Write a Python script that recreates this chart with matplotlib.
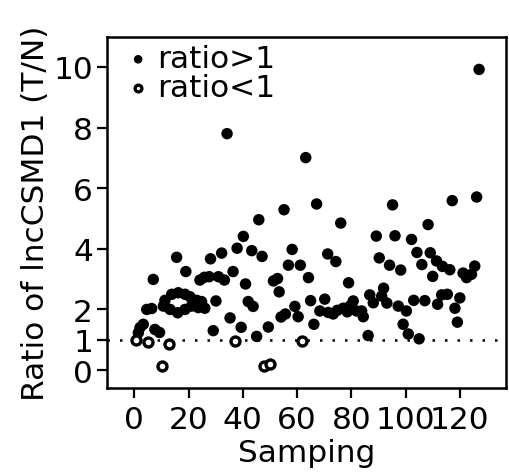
import matplotlib
matplotlib.use('Agg')
import matplotlib.pyplot as plt


# samples with tumour/normal ratio above 1
HIGH_X = [
    1.5, 2.1, 3.3, 4.6, 6.4, 7.0, 7.6, 9.3, 10.7, 11.3, 13.2, 13.8, 15.6,
    16.0, 16.2, 18.7, 18.7, 19.0, 20.5, 21.1, 23.0, 23.6, 24.2, 24.8, 26.0,
    25.8, 27.6, 28.1, 29.1, 30.1, 31.0, 32.2, 33.2, 34.2, 35.3, 36.4, 37.9,
    39.4, 40.2, 41.0, 42.0, 43.3, 43.8, 45.1, 45.9, 47.1, 49.4, 51.3, 52.8,
    53.4, 54.1, 55.2, 55.7, 56.8, 58.2, 59.2, 60.4, 61.2, 63.2, 64.2, 65.0,
    66.2, 67.2, 68.4, 70.2, 71.3, 71.5, 73.3, 74.3, 74.8, 76.1, 77.0, 78.5,
    79.0, 79.5, 80.7, 81.9, 83.8, 84.4, 86.2, 86.8, 88.1, 89.2, 90.3, 91.2,
    91.9, 93.1, 94.1, 95.2, 96.1, 97.3, 98.2, 99.1, 100.3, 101.0, 102.2,
    103.0, 104.2, 105.0, 106.0, 107.1, 108.3, 109.1, 110.0, 111.4, 111.8,
    113.3, 113.6, 115.4, 116.3, 117.2, 118.2, 119.1, 120.0, 121.2, 122.5,
    124.3, 125.5, 126.2, 127.1,
]
HIGH_Y = [
    1.23, 1.40, 1.51, 2.00, 2.03, 2.99, 1.34, 1.24, 2.11, 2.30, 2.00, 2.50,
    3.72, 1.89, 2.55, 2.50, 2.00, 3.25, 2.42, 2.11, 2.30, 2.06, 2.97, 2.26,
    2.04, 3.06, 3.08, 3.67, 1.30, 2.28, 3.08, 3.86, 2.97, 7.80, 1.72, 3.25,
    4.02, 1.41, 4.41, 2.84, 2.26, 3.94, 2.10, 1.11, 4.96, 3.75, 1.42, 2.94,
    3.02, 2.58, 1.75, 5.29, 1.85, 3.46, 3.98, 2.10, 1.76, 3.46, 7.01, 3.05,
    2.29, 1.51, 5.48, 1.95, 2.34, 3.83, 1.90, 1.85, 3.58, 1.97, 4.85, 2.04,
    1.92, 2.88, 2.11, 2.28, 1.95, 1.95, 1.76, 1.14, 2.48, 2.22, 4.42, 3.70,
    2.44, 2.70, 2.21, 3.46, 5.45, 4.43, 2.11, 3.30, 1.51, 1.95, 1.19, 4.31,
    2.30, 3.88, 1.03, 3.48, 2.29, 4.80, 3.87, 3.09, 3.60, 2.17, 2.48, 3.42,
    2.50, 3.31, 5.59, 2.04, 1.58, 2.38, 3.20, 3.05, 3.16, 3.43, 5.71, 9.92,
]

# samples with ratio below 1
LOW_X = [0.8, 5.2, 10.3, 12.9, 37.2, 47.8, 50.2, 61.9]
LOW_Y = [0.99, 0.93, 0.12, 0.85, 0.96, 0.14, 0.20, 0.97]

X_TICKS = [0, 20, 40, 60, 80, 100, 120]
Y_TICKS = [0, 1, 2, 4, 6, 8, 10]

FONT_SIZE = 22.5


def create_plot(filename='out.png'):
    plt.rcParams['font.family'] = ['DejaVu Sans']
    fig = plt.figure(figsize=(5.09, 4.77), dpi=100)
    ax = fig.add_axes([0.210, 0.184, 0.784, 0.737])

    ax.axhline(1, color='black', linewidth=1.8, linestyle=(0, (1, 4)),
               zorder=1)
    ax.scatter(HIGH_X, HIGH_Y, s=68, color='black', edgecolors='none',
               label='ratio>1', zorder=3)
    ax.scatter(LOW_X, LOW_Y, s=42, facecolors='white', edgecolors='black',
               linewidths=2.4, label='ratio<1', zorder=3)

    ax.set_xlim(-10.1, 137)
    ax.set_ylim(-0.6, 11.0)
    ax.set_xticks(X_TICKS)
    ax.set_yticks(Y_TICKS)
    ax.tick_params(labelsize=FONT_SIZE, width=1.6, length=7)
    ax.tick_params(axis='x', pad=5)
    ax.tick_params(axis='y', pad=3)
    for spine in ax.spines.values():
        spine.set_linewidth(1.8)

    ax.set_xlabel('Samping', fontsize=FONT_SIZE, labelpad=3)
    ax.set_ylabel('Ratio of lncCSMD1 (T/N)', fontsize=FONT_SIZE, labelpad=2)

    ax.legend(loc='upper left', bbox_to_anchor=(0.0, 1.04),
              fontsize=FONT_SIZE, frameon=False, markerscale=0.75,
              handlelength=0.6, handletextpad=0.3, labelspacing=0.0,
              borderaxespad=0.3)

    fig.savefig(filename, dpi=100)


if __name__ == '__main__':
    create_plot()
